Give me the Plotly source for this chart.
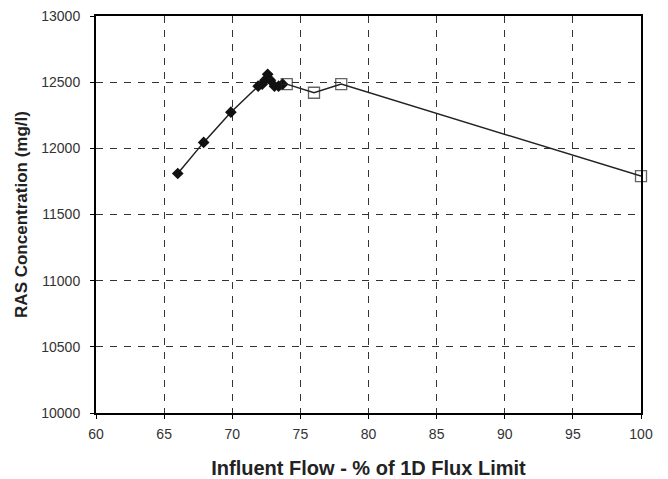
import plotly.graph_objects as go

# Data
diamond_x = [66.0, 67.9, 69.9, 71.9, 72.2, 72.4, 72.6, 72.8, 73.1, 73.4, 73.7]
diamond_y = [11810, 12045, 12273, 12470, 12485, 12515, 12560, 12515, 12470, 12470, 12485]
square_x = [73.7, 74.0, 76.0, 78.0, 100.0]
square_y = [12485, 12485, 12420, 12485, 11790]
square_marker = [False, True, True, True, True]

x_ticks = [60, 65, 70, 75, 80, 85, 90, 95, 100]
y_ticks = [10000, 10500, 11000, 11500, 12000, 12500, 13000]

FONT = "Liberation Sans, Arial"

fig = go.Figure()
fig.add_trace(go.Scatter(
    x=diamond_x, y=diamond_y, mode="lines+markers",
    line=dict(color="#222222", width=1.5),
    marker=dict(symbol="diamond", size=9, color="#111111"),
    cliponaxis=False, showlegend=False))
fig.add_trace(go.Scatter(
    x=square_x, y=square_y, mode="lines+markers",
    line=dict(color="#222222", width=1.5),
    marker=dict(symbol="square-open", size=[0 if not m else 11 for m in square_marker],
                color="#222222", line=dict(width=1.3)),
    cliponaxis=False, showlegend=False))

axis_common = dict(
    showgrid=True, gridcolor="#333333", griddash="7px,7px", gridwidth=1,
    showline=True, linecolor="black", linewidth=2, mirror=True,
    ticks="outside", ticklen=4, tickcolor="black",
    tickfont=dict(family=FONT, size=14, color="#333333"),
    zeroline=False, automargin=False, ticklabeloverflow="allow",
)

fig.update_xaxes(range=[60, 100], tickvals=x_ticks, ticktext=[str(v) for v in x_ticks],
                 ticklabelstandoff=3,
                 title=dict(text="<b>Influent Flow - % of 1D Flux Limit</b>",
                            font=dict(family=FONT, size=20, color="#222222"),
                            standoff=20),
                 **axis_common)
fig.update_yaxes(range=[10000, 13000], tickvals=y_ticks, ticktext=[str(v) for v in y_ticks],
                 ticklabelstandoff=7,
                 title=dict(text="<b>RAS Concentration (mg/l)</b>",
                            font=dict(family=FONT, size=17, color="#222222"),
                            standoff=9),
                 **axis_common)

# margins compensate for the 8px default page body margin
fig.update_layout(
    width=668, height=479,
    margin=dict(l=88, r=35, t=8, b=74),
    paper_bgcolor="white", plot_bgcolor="white",
)

fig.write_html("out.html")
